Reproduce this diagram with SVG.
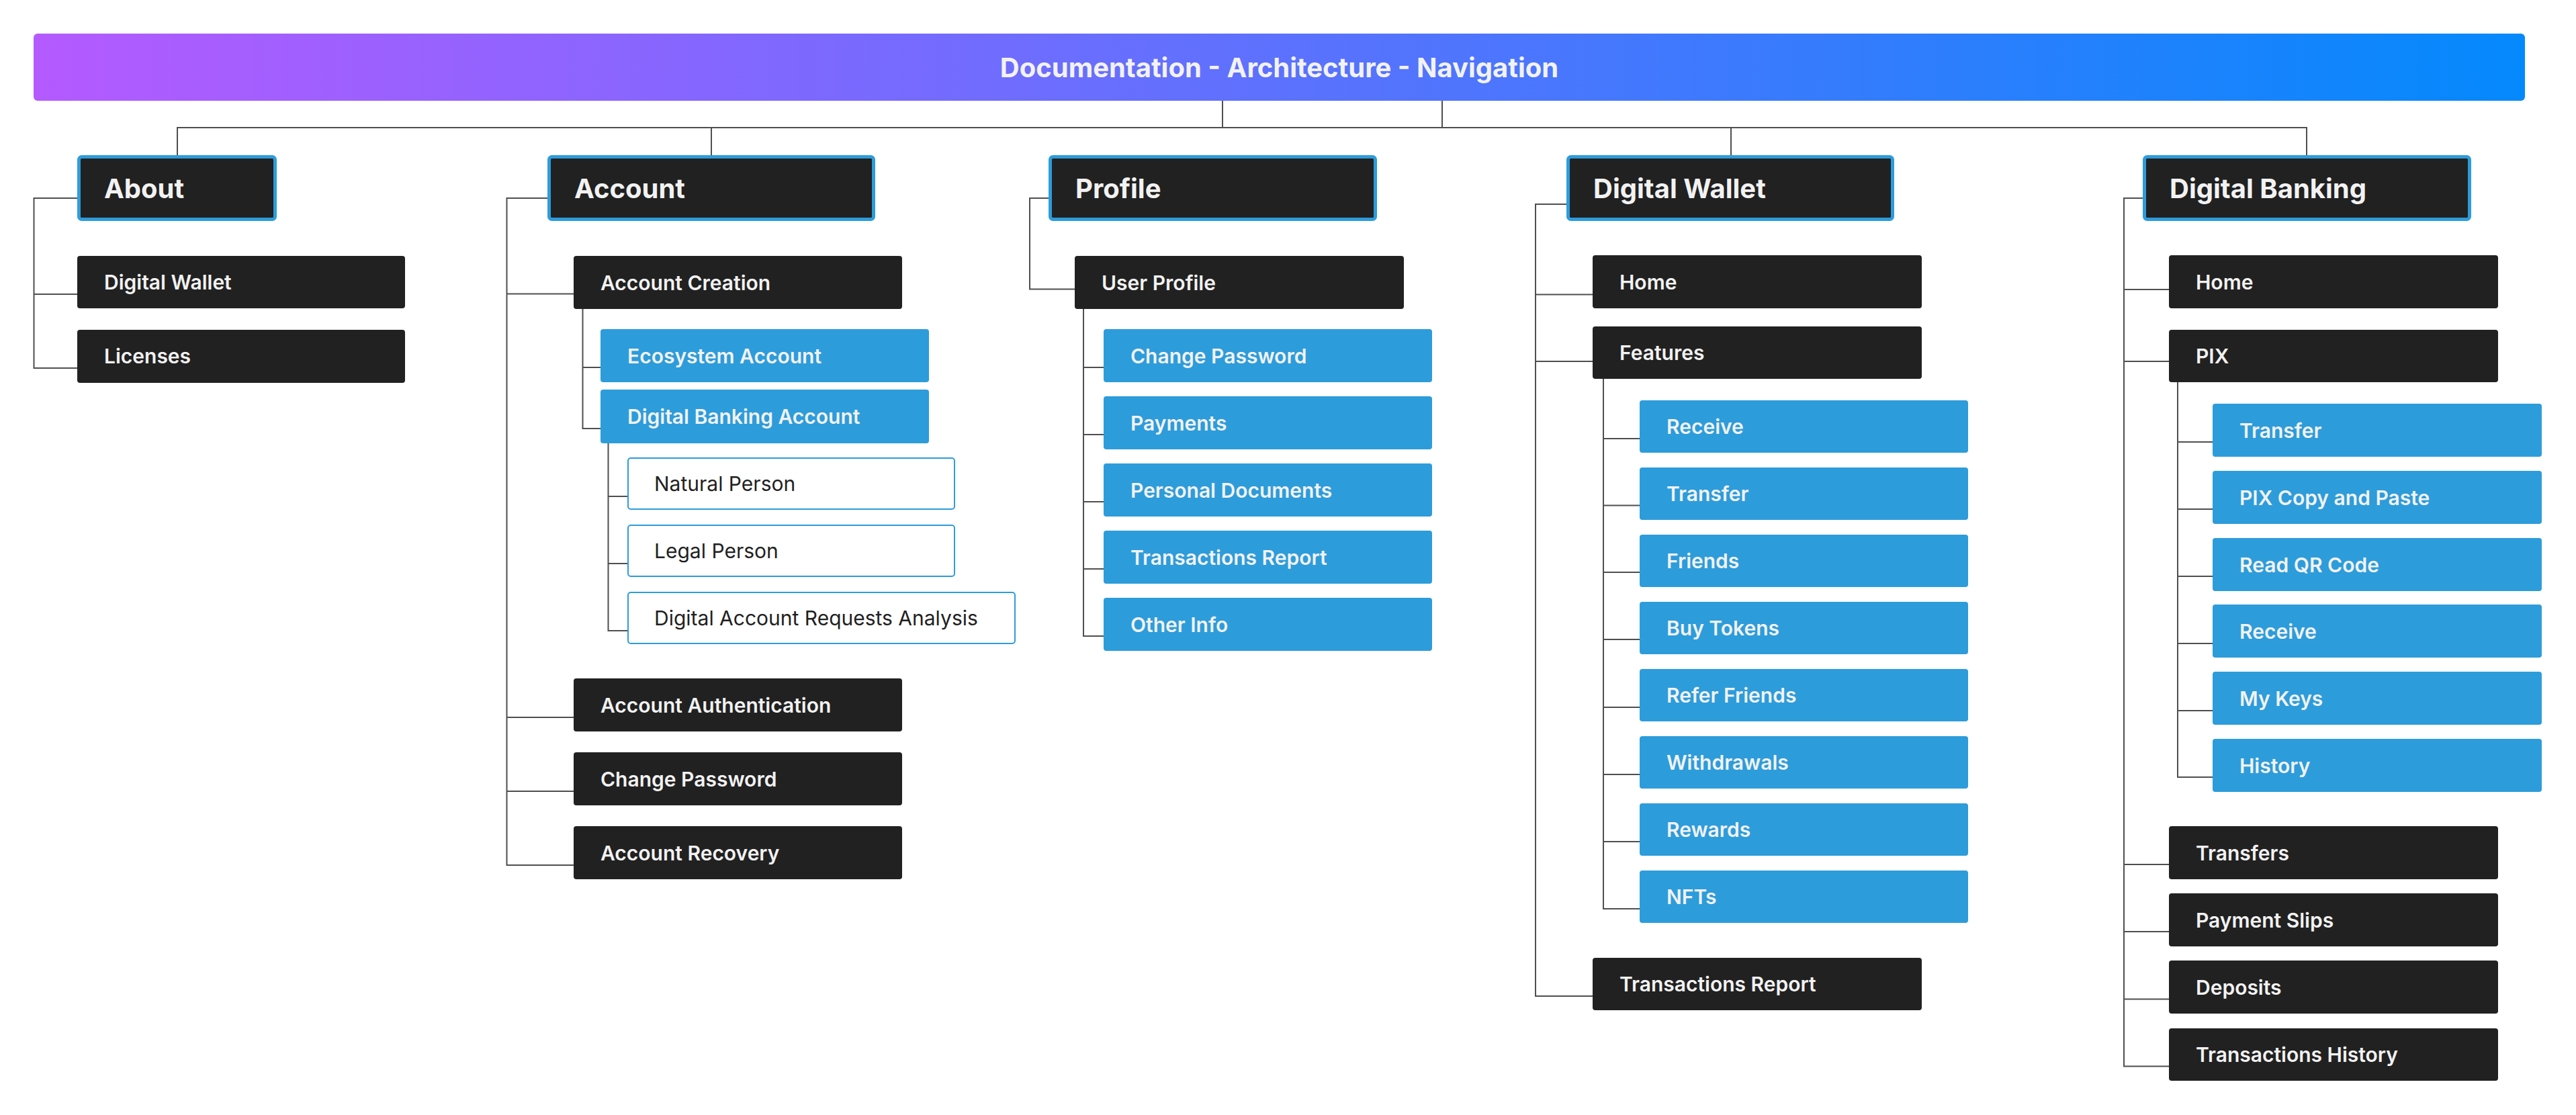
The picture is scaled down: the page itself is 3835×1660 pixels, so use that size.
<svg xmlns="http://www.w3.org/2000/svg" width="3835" height="1660" viewBox="0 0 3835 1660">
<defs>
<linearGradient id="titleGrad" x1="0" y1="0" x2="1" y2="0">
<stop offset="0" stop-color="#B45AFF"/>
<stop offset="1" stop-color="#0489FC"/>
</linearGradient>
<style>
text{font-family:Inter,"Liberation Sans",sans-serif;}
.title{font-size:40px;font-weight:700;fill:#F2F2F2;}
.hdr rect{fill:#212121;stroke:#2D9CDB;stroke-width:5;}
.hdr text{font-size:40px;font-weight:700;fill:#F2F2F2;}
.dark rect{fill:#212121;}
.blue rect{fill:#2D9CDB;}
.dark text,.blue text{font-size:30px;font-weight:600;fill:#F2F2F2;}
.white rect{fill:#FFFFFF;stroke:#2D9CDB;stroke-width:2;}
.white text{font-size:30px;font-weight:400;fill:#212121;}
.conn path{fill:none;stroke:#4F4F4F;stroke-width:2;}
</style>
</defs>
<rect width="3835" height="1660" fill="#FFFFFF"/>

<g id="connectors" class="conn">
<path d="M264 231 V190 H3434 V231 M1059 190 V231 M2577 190 V231 M1820 150 V190 M2147 150 V190"/>
<path d="M115 295 H50.5 V548 H115 M50.5 438 H115"/>
<path d="M815 295 H754.5 V1288 H854 M754.5 437.5 H854 M754.5 1068 H854 M754.5 1178 H854"/>
<path d="M867.5 460 V638 H894 M867.5 547 H894"/>
<path d="M905.5 660 V939 H934 M905.5 739 H934 M905.5 839 H934"/>
<path d="M1561 295 H1533 V430.5 H1600"/>
<path d="M1613 460 V947 H1643 M1613 547 H1643 M1613 647 H1643 M1613 747 H1643 M1613 847 H1643"/>
<path d="M2332 304 H2286 V1483 H2371 M2286 438.5 H2371 M2286 538 H2371"/>
<path d="M2387 564 V1353 H2441 M2387 653 H2441 M2387 752.5 H2441 M2387 852 H2441 M2387 952 H2441 M2387 1053 H2441 M2387 1153 H2441 M2387 1253 H2441"/>
<path d="M3190 295 H3162 V1587.5 H3229 M3162 431 H3229 M3162 538 H3229 M3162 1287 H3229 M3162 1387 H3229 M3162 1487.5 H3229"/>
<path d="M3242 569 V1157 H3294 M3242 658 H3294 M3242 758 H3294 M3242 858 H3294 M3242 958 H3294 M3242 1058 H3294"/>
</g>

<g id="title">
<rect x="50" y="50" width="3709" height="100" rx="6" fill="url(#titleGrad)"/>
<text class="title" x="1904.5" y="114.5" text-anchor="middle">Documentation - Architecture - Navigation</text>
</g>

<g id="about" class="hdr"><rect x="117.5" y="233.5" width="292" height="93" rx="4"/><text x="155" y="295">About</text></g>
<g id="account" class="hdr"><rect x="817.5" y="233.5" width="483" height="93" rx="4"/><text x="855" y="295">Account</text></g>
<g id="profile" class="hdr"><rect x="1563.5" y="233.5" width="484" height="93" rx="4"/><text x="1601" y="295">Profile</text></g>
<g id="digital-wallet" class="hdr"><rect x="2334.5" y="233.5" width="483" height="93" rx="4"/><text x="2372" y="295">Digital Wallet</text></g>
<g id="digital-banking" class="hdr"><rect x="3192.5" y="233.5" width="484" height="93" rx="4"/><text x="3230" y="295">Digital Banking</text></g>

<g id="about-digital-wallet" class="dark"><rect x="115" y="381" width="488" height="78" rx="4"/><text x="155" y="431">Digital Wallet</text></g>
<g id="about-licenses" class="dark"><rect x="115" y="491" width="488" height="79" rx="4"/><text x="155" y="541">Licenses</text></g>

<g id="account-creation" class="dark"><rect x="854" y="381" width="489" height="79" rx="4"/><text x="894" y="431.5">Account Creation</text></g>
<g id="ecosystem-account" class="blue"><rect x="894" y="490" width="489" height="79" rx="4"/><text x="934" y="540.5">Ecosystem Account</text></g>
<g id="digital-banking-account" class="blue"><rect x="894" y="580" width="489" height="80" rx="4"/><text x="934" y="631">Digital Banking Account</text></g>
<g id="natural-person" class="white"><rect x="935" y="682" width="486" height="76" rx="4"/><text x="974" y="731">Natural Person</text></g>
<g id="legal-person" class="white"><rect x="935" y="782" width="486" height="76" rx="4"/><text x="974" y="831">Legal Person</text></g>
<g id="digital-account-requests-analysis" class="white"><rect x="935" y="882" width="576" height="76" rx="4"/><text x="974" y="931">Digital Account Requests Analysis</text></g>
<g id="account-authentication" class="dark"><rect x="854" y="1010" width="489" height="79" rx="4"/><text x="894" y="1060.5">Account Authentication</text></g>
<g id="account-change-password" class="dark"><rect x="854" y="1120" width="489" height="79" rx="4"/><text x="894" y="1170.5">Change Password</text></g>
<g id="account-recovery" class="dark"><rect x="854" y="1230" width="489" height="79" rx="4"/><text x="894" y="1280.5">Account Recovery</text></g>

<g id="user-profile" class="dark"><rect x="1600" y="381" width="490" height="79" rx="4"/><text x="1640" y="431.5">User Profile</text></g>
<g id="profile-change-password" class="blue"><rect x="1643" y="490" width="489" height="79" rx="4"/><text x="1683" y="540.5">Change Password</text></g>
<g id="profile-payments" class="blue"><rect x="1643" y="590" width="489" height="79" rx="4"/><text x="1683" y="640.5">Payments</text></g>
<g id="profile-personal-documents" class="blue"><rect x="1643" y="690" width="489" height="79" rx="4"/><text x="1683" y="740.5">Personal Documents</text></g>
<g id="profile-transactions-report" class="blue"><rect x="1643" y="790" width="489" height="79" rx="4"/><text x="1683" y="840.5">Transactions Report</text></g>
<g id="profile-other-info" class="blue"><rect x="1643" y="890" width="489" height="79" rx="4"/><text x="1683" y="940.5">Other Info</text></g>

<g id="dw-home" class="dark"><rect x="2371" y="380" width="490" height="79" rx="4"/><text x="2411" y="430.5">Home</text></g>
<g id="dw-features" class="dark"><rect x="2371" y="486" width="490" height="78" rx="4"/><text x="2411" y="536">Features</text></g>
<g id="dw-receive" class="blue"><rect x="2441" y="596" width="489" height="78" rx="4"/><text x="2481" y="646">Receive</text></g>
<g id="dw-transfer" class="blue"><rect x="2441" y="696" width="489" height="78" rx="4"/><text x="2481" y="746">Transfer</text></g>
<g id="dw-friends" class="blue"><rect x="2441" y="796" width="489" height="78" rx="4"/><text x="2481" y="846">Friends</text></g>
<g id="dw-buy-tokens" class="blue"><rect x="2441" y="896" width="489" height="78" rx="4"/><text x="2481" y="946">Buy Tokens</text></g>
<g id="dw-refer-friends" class="blue"><rect x="2441" y="996" width="489" height="78" rx="4"/><text x="2481" y="1046">Refer Friends</text></g>
<g id="dw-withdrawals" class="blue"><rect x="2441" y="1096" width="489" height="78" rx="4"/><text x="2481" y="1146">Withdrawals</text></g>
<g id="dw-rewards" class="blue"><rect x="2441" y="1196" width="489" height="78" rx="4"/><text x="2481" y="1246">Rewards</text></g>
<g id="dw-nfts" class="blue"><rect x="2441" y="1296" width="489" height="78" rx="4"/><text x="2481" y="1346">NFTs</text></g>
<g id="dw-transactions-report" class="dark"><rect x="2371" y="1426" width="490" height="78" rx="4"/><text x="2411" y="1476">Transactions Report</text></g>

<g id="db-home" class="dark"><rect x="3229" y="380" width="490" height="79" rx="4"/><text x="3269" y="430.5">Home</text></g>
<g id="db-pix" class="dark"><rect x="3229" y="491" width="490" height="78" rx="4"/><text x="3269" y="541">PIX</text></g>
<g id="pix-transfer" class="blue"><rect x="3294" y="601" width="490" height="79" rx="4"/><text x="3334" y="651.5">Transfer</text></g>
<g id="pix-copy-paste" class="blue"><rect x="3294" y="701" width="490" height="79" rx="4"/><text x="3334" y="751.5">PIX Copy and Paste</text></g>
<g id="pix-read-qr" class="blue"><rect x="3294" y="801" width="490" height="79" rx="4"/><text x="3334" y="851.5">Read QR Code</text></g>
<g id="pix-receive" class="blue"><rect x="3294" y="900" width="490" height="79" rx="4"/><text x="3334" y="950.5">Receive</text></g>
<g id="pix-my-keys" class="blue"><rect x="3294" y="1000" width="490" height="79" rx="4"/><text x="3334" y="1050.5">My Keys</text></g>
<g id="pix-history" class="blue"><rect x="3294" y="1100" width="490" height="79" rx="4"/><text x="3334" y="1150.5">History</text></g>
<g id="db-transfers" class="dark"><rect x="3229" y="1230" width="490" height="79" rx="4"/><text x="3269" y="1280.5">Transfers</text></g>
<g id="db-payment-slips" class="dark"><rect x="3229" y="1330" width="490" height="79" rx="4"/><text x="3269" y="1380.5">Payment Slips</text></g>
<g id="db-deposits" class="dark"><rect x="3229" y="1430" width="490" height="79" rx="4"/><text x="3269" y="1480.5">Deposits</text></g>
<g id="db-transactions-history" class="dark"><rect x="3229" y="1531" width="490" height="78" rx="4"/><text x="3269" y="1581">Transactions History</text></g>
</svg>
